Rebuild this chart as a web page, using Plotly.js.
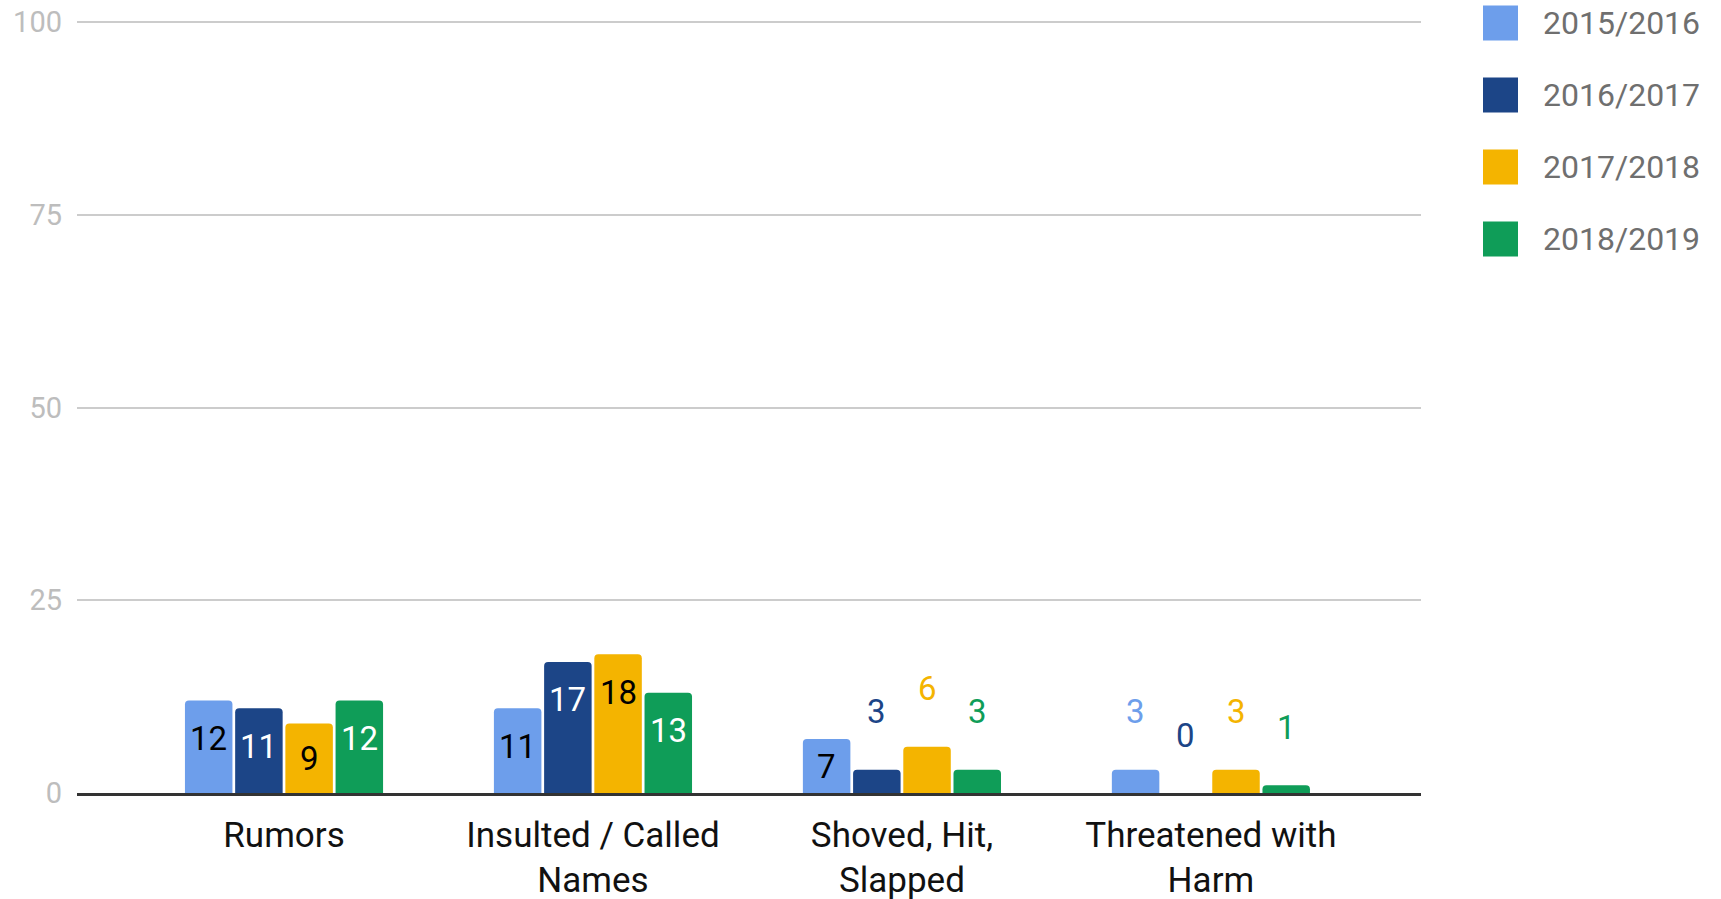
<!DOCTYPE html>
<html>
<head>
<meta charset="utf-8">
<script src="https://cdn.plot.ly/plotly-3.0.1.min.js"></script>
<style>html,body{margin:0;padding:0;background:#fff;}#chart{width:1721px;height:899px;}</style>
</head>
<body>
<div id="chart"></div>
<script>
// ---- data ----
const categories = ["Rumors", "Insulted / Called<br>Names", "Shoved, Hit,<br>Slapped", "Threatened with<br>Harm"];
const seriesNames = ["2015/2016", "2016/2017", "2017/2018", "2018/2019"];
const y2015 = [12, 11, 7, 3];
const y2016 = [11, 17, 3, 0];
const y2017 = [9, 18, 6, 3];
const y2018 = [12, 13, 3, 1];
const yTicks = [0, 25, 50, 75, 100];

// ---- styles ----
const colors = ["#6d9eeb", "#1c4587", "#f4b400", "#0f9d58"];
const insideText = ["#000000", "#ffffff", "#000000", "#ffffff"];
const seriesValues = [y2015, y2016, y2017, y2018];

const W = 1721, H = 899;
const M = {l: 77, r: 300, t: 21, b: 106};
const plotW = W - M.l - M.r, plotH = H - M.t - M.b;
const xRange = [-0.67, 3.68], yRange = [0, 100.15];
const bargap = 0.35, bargroupgap = 0.054;
const catPx = plotW / (xRange[1] - xRange[0]);
const pxPerUnit = plotH / (yRange[1] - yRange[0]);
const slot = catPx * (1 - bargap) / seriesNames.length;
const FONT = "Roboto, 'Noto Sans', sans-serif";

const xIdx = categories.map((c, i) => i);

const traces = seriesNames.map((name, s) => ({
  type: "bar",
  name: name,
  x: xIdx,
  y: seriesValues[s],
  marker: {color: colors[s], cornerradius: 4},
  showlegend: false,
  hoverinfo: "x+y+name"
}));

// value labels
const annotations = [];
seriesValues.forEach((vals, s) => {
  vals.forEach((v, i) => {
    const barPx = v * pxPerUnit;
    const inside = barPx >= 50;
    const xs = (s - (seriesNames.length - 1) / 2) * slot;
    annotations.push({
      x: i, y: v, xref: "x", yref: "y",
      text: String(v), showarrow: false,
      xanchor: "center", yanchor: "middle",
      xshift: xs,
      yshift: inside ? -Math.min(38, barPx / 2) : 58,
      font: {family: FONT, size: 33, color: inside ? insideText[s] : colors[s]}
    });
  });
});

// custom legend
const shapes = [];
const legX0 = 1483, legSw = 35, legY0 = 23, legStep = 72;
seriesNames.forEach((name, s) => {
  const cy = legY0 + s * legStep;
  shapes.push({
    type: "rect", xref: "paper", yref: "paper", layer: "above",
    x0: (legX0 - M.l) / plotW, x1: (legX0 + legSw - M.l) / plotW,
    y0: (H - M.b - (cy + legSw / 2)) / plotH, y1: (H - M.b - (cy - legSw / 2)) / plotH,
    fillcolor: colors[s], line: {width: 0}
  });
  annotations.push({
    xref: "paper", yref: "paper",
    x: (legX0 + legSw + 23 - M.l) / plotW, y: (H - M.b - cy) / plotH,
    xanchor: "left", yanchor: "middle", showarrow: false,
    text: name, font: {family: FONT, size: 32, color: "#6f6f6f"}
  });
});

const layout = {
  width: W, height: H,
  margin: M,
  paper_bgcolor: "#ffffff", plot_bgcolor: "#ffffff",
  barmode: "group", bargap: bargap, bargroupgap: bargroupgap,
  showlegend: false,
  xaxis: {
    range: xRange, tickmode: "array", tickvals: xIdx, ticktext: categories,
    showgrid: false, zeroline: false,
    showline: true, linecolor: "#333333", linewidth: 2.5,
    ticks: "", ticklabelstandoff: 9,
    tickfont: {family: FONT, size: 35, color: "#111111"},
    fixedrange: true
  },
  yaxis: {
    range: yRange, tickmode: "array", tickvals: yTicks,
    showgrid: true, gridcolor: "#cccccc", gridwidth: 2,
    zeroline: false, showline: false, ticks: "",
    ticklabelstandoff: 14,
    tickfont: {family: FONT, size: 29, color: "#bdbdbd"},
    fixedrange: true
  },
  annotations: annotations,
  shapes: shapes,
  font: {family: FONT}
};

Plotly.newPlot("chart", traces, layout, {displayModeBar: false, staticPlot: true});
</script>
</body>
</html>
